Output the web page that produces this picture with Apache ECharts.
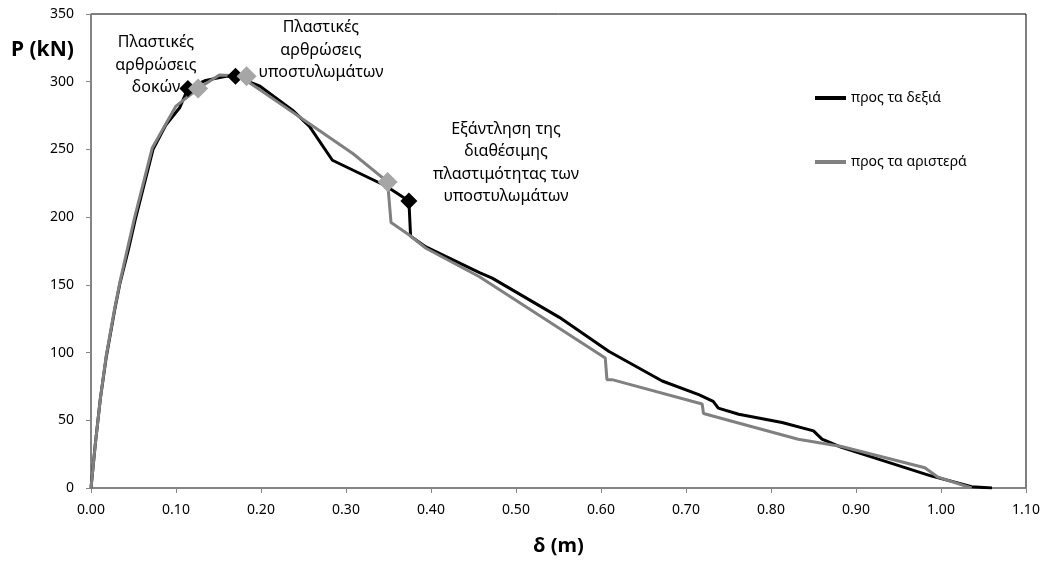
<!DOCTYPE html>
<html>
<head>
<meta charset="utf-8">
<script src="https://cdn.jsdelivr.net/npm/echarts@6/dist/echarts.min.js"></script>
<style>
  html, body { margin: 0; padding: 0; background: #fff; }
  #chart { width: 1046px; height: 561px; }
</style>
</head>
<body>
<div id="chart"></div>
<script>
  // δ (m), P (kN) - προς τα δεξιά
  const rightCurve = [
    [0, 0], [0.005, 32], [0.011, 66], [0.018, 97], [0.028, 132], [0.034, 151],
    [0.044, 176], [0.052, 198], [0.073, 250], [0.088, 268], [0.1045, 281],
    [0.114, 295], [0.135, 301], [0.159, 304], [0.170, 304], [0.198, 297],
    [0.237, 279], [0.257, 267], [0.284, 242], [0.347, 223], [0.374, 212],
    [0.376, 186], [0.394, 178], [0.457, 159], [0.472, 155], [0.551, 126],
    [0.609, 101], [0.672, 79], [0.715, 69], [0.732, 64], [0.738, 59],
    [0.762, 54.5], [0.813, 48.4], [0.850, 42.2], [0.860, 36.1], [0.883, 30],
    [0.988, 9], [1.036, 1], [1.06, 0]
  ]
  // προς τα αριστερά
  const leftCurve = [
    [0, 0], [0.005, 32], [0.011, 66], [0.018, 98], [0.028, 133], [0.034, 152],
    [0.043, 177], [0.051, 199], [0.072, 251], [0.100, 282], [0.126, 295],
    [0.151, 305], [0.183, 304], [0.187, 299], [0.222, 284], [0.257, 269],
    [0.308, 247], [0.349, 226], [0.350, 218], [0.353, 196], [0.374, 187],
    [0.394, 177], [0.457, 156], [0.605, 96], [0.607, 80], [0.613, 80],
    [0.719, 62], [0.7206, 55], [0.7735, 46], [0.832, 36], [0.883, 30.7],
    [0.981, 15], [0.9965, 8], [1.036, 0]
  ]
  // σημεία πλαστικών αρθρώσεων
  const rightHinges = [[0.114, 295], [0.170, 304], [0.374, 212]]
  const leftHinges = [[0.126, 295], [0.183, 304], [0.349, 226]]
  const seriesNames = ['προς τα δεξιά', 'προς τα αριστερά']

  const font = '"Noto Sans", sans-serif'
  const chart = echarts.init(document.getElementById('chart'))

  chart.setOption({
    animation: false,
    textStyle: { fontFamily: font },
    grid: {
      left: 91, right: 20, top: 14, bottom: 72,
      show: true,
      borderColor: '#000',
      borderWidth: 1
    },
    legend: {
      data: seriesNames,
      orient: 'vertical',
      left: 810,
      top: 85,
      itemGap: 48,
      itemWidth: 31,
      itemHeight: 4,
      icon: 'rect',
      textStyle: { fontSize: 14, color: '#000', lineHeight: 16 }
    },
    xAxis: {
      type: 'value',
      min: 0,
      max: 1.1,
      interval: 0.1,
      name: 'δ (m)',
      nameLocation: 'middle',
      nameGap: 48,
      nameTextStyle: { fontSize: 20, fontWeight: 'bold', color: '#000' },
      splitLine: { show: false },
      axisLine: { lineStyle: { color: '#868686', width: 1.5 } },
      axisTick: { length: 5, lineStyle: { color: '#868686' } },
      axisLabel: {
        fontSize: 14, color: '#000', margin: 15,
        formatter: v => v.toFixed(2)
      }
    },
    yAxis: {
      type: 'value',
      min: 0,
      max: 350,
      interval: 50,
      splitLine: { show: false },
      axisLine: { show: true, lineStyle: { color: '#868686', width: 1.5 } },
      axisTick: { show: true, length: 5, lineStyle: { color: '#868686' } },
      axisLabel: { fontSize: 14, color: '#000', margin: 17 }
    },
    graphic: [
      {
        type: 'text', left: 11, top: 40,
        style: { text: 'P (kN)', font: 'bold 21px ' + font, fill: '#000' }
      },
      {
        type: 'text', x: 156, y: 65,
        style: {
          text: 'Πλαστικές\nαρθρώσεις\nδοκών', font: '16px ' + font,
          fill: '#000', align: 'center', verticalAlign: 'middle', lineHeight: 22.5
        }
      },
      {
        type: 'text', x: 321, y: 50,
        style: {
          text: 'Πλαστικές\nαρθρώσεις\nυποστυλωμάτων', font: '16px ' + font,
          fill: '#000', align: 'center', verticalAlign: 'middle', lineHeight: 22.5
        }
      },
      {
        type: 'text', x: 506, y: 163,
        style: {
          text: 'Εξάντληση της\nδιαθέσιμης\nπλαστιμότητας των\nυποστυλωμάτων', font: '16px ' + font,
          fill: '#000', align: 'center', verticalAlign: 'middle', lineHeight: 22.5
        }
      }
    ],
    series: [
      {
        name: seriesNames[0],
        type: 'line',
        data: rightCurve,
        showSymbol: false,
        symbol: 'none',
        color: '#000',
        lineStyle: { color: '#000', width: 3 },
        z: 2
      },
      {
        name: seriesNames[1],
        type: 'line',
        data: leftCurve,
        showSymbol: false,
        symbol: 'none',
        color: '#808080',
        lineStyle: { color: '#808080', width: 3 },
        z: 3
      },
      {
        name: 'right hinges',
        type: 'scatter',
        data: rightHinges,
        symbol: 'diamond',
        symbolSize: 17,
        itemStyle: { color: '#000', opacity: 1 },
        z: 4
      },
      {
        name: 'left hinges',
        type: 'scatter',
        data: leftHinges,
        symbol: 'diamond',
        symbolSize: 20,
        itemStyle: { color: '#a6a6a6', opacity: 1 },
        z: 5
      }
    ]
  })
</script>
</body>
</html>
